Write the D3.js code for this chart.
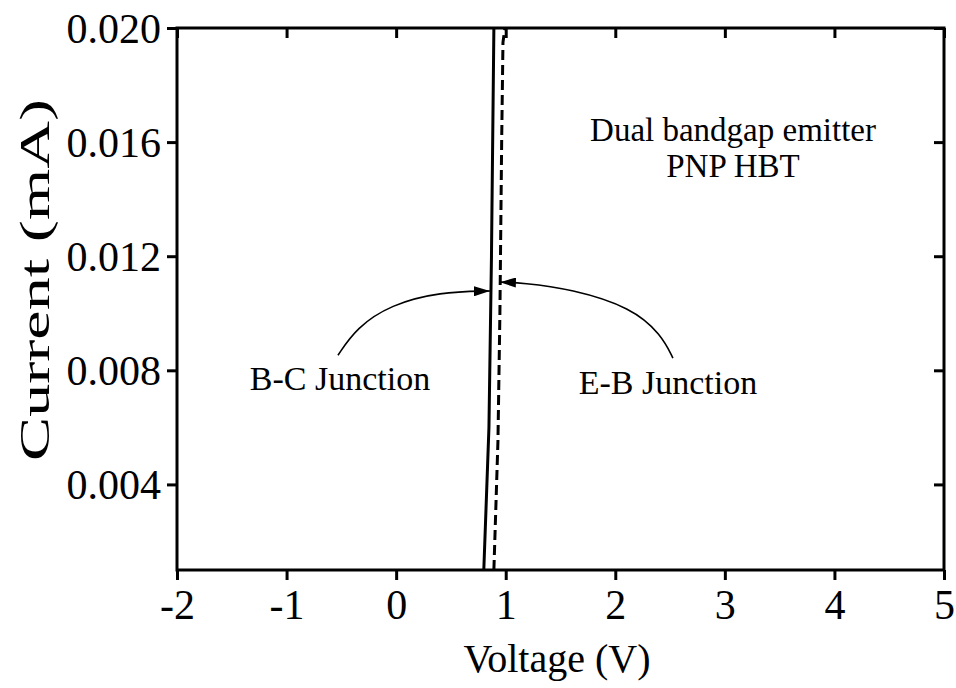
<!DOCTYPE html>
<html><head><meta charset="utf-8">
<script src="https://cdn.jsdelivr.net/npm/d3@7"></script>
<style>
html,body{margin:0;padding:0;background:#fff;}
svg{display:block;font-family:"Liberation Serif","Times New Roman",serif;}
</style></head>
<body><svg id="c" width="956" height="688"></svg>
<script>
// Data
const xTicks = [-2, -1, 0, 1, 2, 3, 4, 5];
const yTicks = [0.004, 0.008, 0.012, 0.016, 0.020];
const bcVoltage = [0.80, 0.847, 0.87, 0.892];
const bcCurrent = [0.001, 0.006, 0.012, 0.020];
const ebVoltage = [0.892, 0.929, 0.947, 0.963, 0.975, 0.993];
const ebCurrent = [0.001, 0.0055, 0.010, 0.016, 0.0195, 0.020];
const bcArrowV = [-0.531, -0.36, -0.05, 0.40, 0.856];
const bcArrowI = [0.00853, 0.00950, 0.01030, 0.01075, 0.01078];
const ebArrowV = [2.526, 2.42, 2.15, 1.60, 1.15, 0.947];
const ebArrowI = [0.00843, 0.00925, 0.01020, 0.01085, 0.01107, 0.01109];

const svg = d3.select("#c");
const L = 177, R = 944, T = 28, B = 570;
const x = d3.scaleLinear().domain([-2, 5]).range([L, R]);
const y = d3.scaleLinear().domain([0.001, 0.020]).range([B, T]);

svg.append("defs").append("marker")
  .attr("id", "ah").attr("viewBox", "0 0 16 10").attr("refX", 16).attr("refY", 5)
  .attr("markerWidth", 16).attr("markerHeight", 10).attr("markerUnits", "userSpaceOnUse")
  .attr("orient", "auto")
  .append("path").attr("d", "M0,0 L16,5 L0,10 Z").attr("fill", "#000");

// Data lines
const line = d3.line().x(d => x(d[0])).y(d => y(d[1]));
svg.append("path").datum(d3.zip(bcVoltage, bcCurrent)).attr("d", line)
  .attr("fill", "none").attr("stroke", "#000").attr("stroke-width", 3);
svg.append("path").datum(d3.zip(ebVoltage, ebCurrent)).attr("d", line)
  .attr("fill", "none").attr("stroke", "#000").attr("stroke-width", 3)
  .attr("stroke-dasharray", "10,5");

// Axes
const fs = 42;
const axB = svg.append("g").attr("transform", `translate(0,${B})`)
  .call(d3.axisBottom(x).tickValues(xTicks).tickFormat(d => String(d)).tickSize(10).tickPadding(6));
const axT = svg.append("g").attr("transform", `translate(0,${T})`)
  .call(d3.axisBottom(x).tickValues(xTicks).tickFormat("").tickSize(10));
const axL = svg.append("g").attr("transform", `translate(${L},0)`)
  .call(d3.axisLeft(y).tickValues(yTicks).tickFormat(d3.format(".3f")).tickSize(10).tickPadding(6));
const axR = svg.append("g").attr("transform", `translate(${R},0)`)
  .call(d3.axisLeft(y).tickValues(yTicks).tickFormat("").tickSize(10));
[axB, axT, axL, axR].forEach(g => {
  g.select(".domain").remove();
  g.selectAll(".tick line").attr("stroke", "#000").attr("stroke-width", 3);
  g.selectAll(".tick text").attr("fill", "#000").attr("font-size", fs)
    .attr("font-family", '"Liberation Serif","Times New Roman",serif');
});
axL.selectAll(".tick text").attr("dy", "0.34em");
axB.selectAll(".tick text").attr("dy", "0.78em");
svg.append("rect").attr("x", L).attr("y", T).attr("width", R - L).attr("height", B - T)
  .attr("fill", "none").attr("stroke", "#000").attr("stroke-width", 3);

// Titles
svg.append("text").attr("x", 557).attr("y", 672).attr("text-anchor", "middle")
  .attr("font-size", 40).text("Voltage (V)");
svg.append("text").attr("transform", "translate(49,280) rotate(-90)").attr("text-anchor", "middle")
  .attr("font-size", 42).attr("textLength", 362).attr("lengthAdjust", "spacingAndGlyphs")
  .text("Current (mA)");

// Annotations
svg.append("text").attr("x", 733).attr("y", 141).attr("text-anchor", "middle")
  .attr("font-size", 33).text("Dual bandgap emitter");
svg.append("text").attr("x", 733).attr("y", 177).attr("text-anchor", "middle")
  .attr("font-size", 33).text("PNP HBT");
svg.append("text").attr("x", 340).attr("y", 390).attr("text-anchor", "middle")
  .attr("font-size", 34).text("B-C Junction");
svg.append("text").attr("x", 668).attr("y", 394).attr("text-anchor", "middle")
  .attr("font-size", 34).text("E-B Junction");

const curve = d3.line().x(d => x(d[0])).y(d => y(d[1])).curve(d3.curveBasis);
svg.append("path").datum(d3.zip(bcArrowV, bcArrowI)).attr("d", curve)
  .attr("fill", "none").attr("stroke", "#000").attr("stroke-width", 1.6).attr("marker-end", "url(#ah)");
svg.append("path").datum(d3.zip(ebArrowV, ebArrowI)).attr("d", curve)
  .attr("fill", "none").attr("stroke", "#000").attr("stroke-width", 1.6).attr("marker-end", "url(#ah)");
</script></body></html>
